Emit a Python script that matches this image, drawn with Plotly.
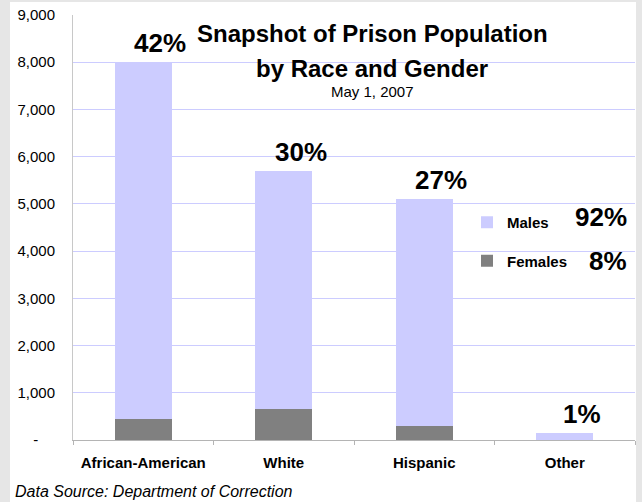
import plotly.graph_objects as go

categories = ["African-American", "White", "Hispanic", "Other"]
females = [450, 650, 290, 10]
males = [7550, 5050, 4810, 130]
share_labels = ["42%", "30%", "27%", "1%"]
gender_share = {"Males": "92%", "Females": "8%"}
y_tickvals = [0, 1000, 2000, 3000, 4000, 5000, 6000, 7000, 8000, 9000]
y_ticktext = ["-\u00a0\u00a0\u00a0\u00a0", "1,000", "2,000", "3,000", "4,000",
              "5,000", "6,000", "7,000", "8,000", "9,000"]
title_lines = ["Snapshot of Prison Population", "by Race and Gender"]
subtitle = "May 1, 2007"
source_note = "Data Source: Department of Correction"

FONT = "Arial, 'Liberation Sans', sans-serif"
MALE_C = "#CCCCFF"
FEMALE_C = "#808080"

W, H = 642, 502
ML, MR, MT, MB = 73, 7, 15, 62
PW = W - ML - MR
PH = H - MT - MB


def px_x(px):
    return (px - ML) / PW


def px_y(py):
    return (H - MB - py) / PH


fig = go.Figure()
fig.add_trace(go.Bar(name="Females", x=categories, y=females, marker_color=FEMALE_C,
                     marker_line_width=0, legendgroup="f", legendrank=2))
fig.add_trace(go.Bar(name="Males", x=categories, y=males, marker_color=MALE_C,
                     marker_line_width=0, legendgroup="m", legendrank=1))

totals = [f + m for f, m in zip(females, males)]
annotations = []
for cat, tot, lab in zip(categories, totals, share_labels):
    annotations.append(dict(x=cat, y=tot, xref="x", yref="y", text="<b>%s</b>" % lab,
                            showarrow=False, xshift=17, yshift=19,
                            xanchor="center", yanchor="middle",
                            font=dict(family=FONT, size=26, color="#000000")))

# title block
for txt, py, size in [("<b>%s</b>" % title_lines[0], 34, 24),
                      ("<b>%s</b>" % title_lines[1], 68, 24),
                      (subtitle, 92, 15)]:
    annotations.append(dict(x=px_x(372), y=px_y(py), xref="paper", yref="paper",
                            xanchor="center", yanchor="middle", text=txt, showarrow=False,
                            font=dict(family=FONT, size=size, color="#000000")))

# legend percentages
for key, py in [("Males", 217), ("Females", 261)]:
    annotations.append(dict(x=px_x(629), y=px_y(py), xref="paper", yref="paper",
                            xanchor="right", yanchor="middle",
                            text="<b>%s</b>" % gender_share[key], showarrow=False,
                            font=dict(family=FONT, size=26, color="#000000")))

# source note
annotations.append(dict(x=px_x(13), y=px_y(491), xref="paper", yref="paper",
                        xanchor="left", yanchor="middle", text="<i>%s</i>" % source_note,
                        showarrow=False, font=dict(family=FONT, size=16, color="#000000")))

shapes = [
    # white chart panel on grey frame
    dict(type="rect", xref="paper", yref="paper", x0=px_x(10), x1=px_x(636),
         y0=px_y(H), y1=px_y(2), fillcolor="#FFFFFF", line_width=0, layer="below"),
    # title box
    dict(type="rect", xref="paper", yref="paper", x0=px_x(195), x1=px_x(551),
         y0=px_y(140), y1=px_y(11), fillcolor="#FFFFFF", line_width=0, layer="between"),
    # legend box
    dict(type="rect", xref="paper", yref="paper", x0=px_x(471), x1=px_x(633),
         y0=px_y(294), y1=px_y(207), fillcolor="#FFFFFF", line_width=0, layer="between"),
    dict(type="rect", xref="paper", yref="paper", x0=px_x(569), x1=px_x(633),
         y0=px_y(208), y1=px_y(199), fillcolor="#FFFFFF", line_width=0, layer="between"),
]

fig.update_layout(
    width=W, height=H,
    margin=dict(l=ML, r=MR, t=MT, b=MB, pad=0),
    paper_bgcolor="#E6E6E6",
    plot_bgcolor="#FFFFFF",
    barmode="stack",
    bargap=0.595,
    font=dict(family=FONT, color="#000000"),
    showlegend=True,
    legend=dict(x=px_x(467), y=px_y(206), xanchor="left", yanchor="top",
                bgcolor="rgba(0,0,0,0)", borderwidth=0, traceorder="grouped",
                tracegroupgap=16, font=dict(family=FONT, size=15, color="#000000", weight="bold")),
    annotations=annotations,
    shapes=shapes,
)
fig.update_xaxes(type="category", showgrid=False, showline=True, linecolor="#B4B4B4",
                 linewidth=1, ticks="outside", tickson="boundaries", ticklen=4,
                 tickcolor="#B4B4B4", ticklabelstandoff=9,
                 tickfont=dict(family=FONT, size=15, color="#000000", weight="bold"),
                 fixedrange=True)
fig.update_yaxes(range=[0, 9000], tickvals=y_tickvals, ticktext=y_ticktext,
                 showgrid=True, gridcolor="#CCCCFF", gridwidth=1, zeroline=False,
                 showline=True, linecolor="#C8C8C8", linewidth=1, ticks="",
                 ticklabelstandoff=14,
                 tickfont=dict(family=FONT, size=15, color="#000000"), fixedrange=True)

fig.write_html("out.html", config={"displayModeBar": False},
               post_script="document.body.style.margin='0';document.body.style.overflow='hidden';")
